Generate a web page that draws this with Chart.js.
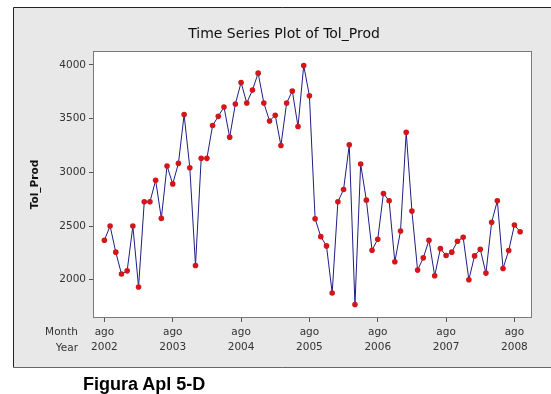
<!DOCTYPE html>
<html>
<head>
<meta charset="utf-8">
<title>Time Series Plot of Tol_Prod</title>
<script src="https://cdn.jsdelivr.net/npm/chart.js@4/dist/chart.umd.min.js"></script>
<style>
  html, body { margin: 0; padding: 0; background: #ffffff; }
  #wrap { position: relative; width: 551px; height: 394px; }
  #chart { position: absolute; left: 0; top: 0; }
  #caption {
    position: absolute; left: 83px; top: 375px;
    font: bold 18px "Liberation Sans", Arial, sans-serif;
    color: #000; white-space: nowrap; line-height: 1;
  }
</style>
</head>
<body>
<div id="wrap">
  <canvas id="chart" width="551" height="394"></canvas>
  <div id="caption">Figura Apl 5-D</div>
</div>
<script>
// Monthly total production, from ago 2002 to sep 2008
const startYear = 2002;
const startMonth = 7; // index into monthNames ("ago")
const monthNames = ['ene', 'feb', 'mar', 'abr', 'may', 'jun', 'jul', 'ago', 'sep', 'oct', 'nov', 'dic'];
const tolProd = [
  2368, 2500, 2257, 2053, 2083, 2500, 1932, 2725, 2725, 2926,
  2571, 3059, 2892, 3083, 3537, 3043, 2133, 3130, 3130, 3435,
  3521, 3608, 3327, 3636, 3836, 3645, 3765, 3923, 3645, 3478,
  3531, 3250, 3645, 3756, 3426, 3994, 3713, 2568, 2401, 2315,
  1877, 2725, 2840, 3256, 1769, 3077, 2741, 2275, 2377, 2803,
  2735, 2167, 2454, 3373, 2639, 2090, 2204, 2368, 2037, 2290,
  2225, 2257, 2358, 2395, 2000, 2222, 2284, 2062, 2534, 2735,
  2105, 2272, 2509, 2447
];
const yTicks = [2000, 2500, 3000, 3500, 4000];
const stampMonth = 'ago'; // time stamp shown on the x axis every year

const FONT = '"DejaVu Sans", Verdana, sans-serif';

function periodOf(i) {
  const m = startMonth + i;
  return { month: monthNames[m % 12], year: String(startYear + Math.floor(m / 12)) };
}

const points = tolProd.map((v, i) => ({ x: i, y: v }));

// Gray panel, white plot frame, title and the "Month / Year" row names
const panelPlugin = {
  id: 'panel',
  beforeDraw(chart) {
    const ctx = chart.ctx;
    const a = chart.chartArea;
    ctx.save();
    ctx.fillStyle = '#ffffff';
    ctx.fillRect(0, 0, chart.width, chart.height);
    ctx.fillStyle = '#e8e8e8';
    ctx.fillRect(13, 7, chart.width - 13, 360.5);
    ctx.strokeStyle = '#222';
    ctx.lineWidth = 1;
    ctx.beginPath();
    ctx.moveTo(13.5, 367.5); ctx.lineTo(13.5, 7.5); ctx.lineTo(chart.width, 7.5);
    ctx.stroke();
    ctx.strokeStyle = '#666';
    ctx.beginPath();
    ctx.moveTo(13.5, 367.5); ctx.lineTo(chart.width, 367.5);
    ctx.stroke();
    ctx.fillStyle = '#ffffff';
    ctx.fillRect(a.left, a.top, a.right - a.left, a.bottom - a.top);

    ctx.fillStyle = '#111';
    ctx.font = '14px ' + FONT;
    ctx.textAlign = 'center';
    ctx.textBaseline = 'middle';
    ctx.fillText('Time Series Plot of Tol_Prod', 284, 34);

    ctx.fillStyle = '#333';
    ctx.font = '10.5px ' + FONT;
    ctx.textAlign = 'right';
    ctx.fillText('Month', 78, 332);
    ctx.fillText('Year', 78, 348);
    ctx.restore();
  },
  afterDraw(chart) {
    const ctx = chart.ctx;
    const a = chart.chartArea;
    ctx.save();
    ctx.strokeStyle = '#7a7a7a';
    ctx.lineWidth = 1;
    ctx.strokeRect(Math.round(a.left) + 0.5, Math.round(a.top) + 0.5,
      Math.round(a.right - a.left) - 1, Math.round(a.bottom - a.top) - 1);
    ctx.restore();
  }
};

new Chart(document.getElementById('chart'), {
  type: 'line',
  data: {
    datasets: [{
      label: 'Tol_Prod',
      data: points,
      borderColor: '#1e1e86',
      borderWidth: 1,
      tension: 0,
      pointRadius: 2.8,
      pointBorderWidth: 0,
      pointBackgroundColor: '#d4161a',
      pointBorderColor: '#d4161a'
    }]
  },
  options: {
    responsive: false,
    animation: false,
    events: [],
    layout: { padding: { top: 51, right: 19.5, bottom: 0, left: 0 } },
    plugins: {
      legend: { display: false },
      title: { display: false },
      tooltip: { enabled: false }
    },
    scales: {
      x: {
        type: 'linear',
        min: -2,
        max: 75,
        border: { display: false },
        grid: { drawOnChartArea: false, drawTicks: true, tickLength: 4, tickColor: '#555' },
        afterBuildTicks(scale) {
          scale.ticks = tolProd
            .map((_, i) => i)
            .filter(i => periodOf(i).month === stampMonth)
            .map(i => ({ value: i }));
        },
        afterFit(scale) { scale.height = 76; },
        ticks: {
          autoSkip: false,
          maxRotation: 0,
          padding: 2,
          color: '#333',
          font: { family: FONT, size: 10.5, lineHeight: 1.5 },
          callback(value) {
            const p = periodOf(value);
            return [p.month, p.year];
          }
        }
      },
      y: {
        type: 'linear',
        min: 1644,
        max: 4129,
        border: { display: false },
        grid: { drawOnChartArea: false, drawTicks: true, tickLength: 4, tickColor: '#555' },
        afterBuildTicks(scale) {
          scale.ticks = yTicks.map(v => ({ value: v }));
        },
        afterFit(scale) { scale.width = 93; },
        title: {
          display: true,
          text: 'Tol_Prod',
          color: '#111',
          font: { family: FONT, size: 10.5, weight: 'bold' },
          padding: { top: 29, bottom: 0 }
        },
        ticks: {
          padding: 3,
          color: '#333',
          font: { family: FONT, size: 10.5 },
          callback(value) { return String(value); }
        }
      }
    }
  },
  plugins: [panelPlugin]
});
</script>
</body>
</html>
